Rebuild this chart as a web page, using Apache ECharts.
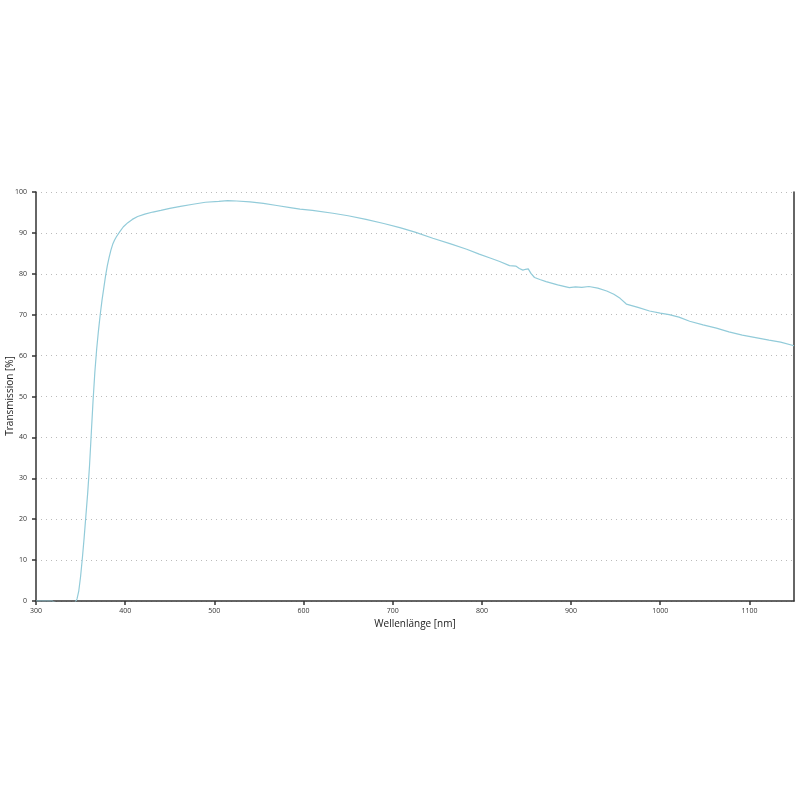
<!DOCTYPE html>
<html>
<head>
<meta charset="utf-8">
<script src="https://cdn.jsdelivr.net/npm/echarts@6/dist/echarts.min.js"></script>
<style>
  html, body { margin: 0; padding: 0; background: #fff; }
  #echartsMain { width: 800px; height: 800px; }
</style>
</head>
<body>
<div id="echartsMain"></div>
<script>
// Wellenlänge in nm
var wavelengths = [300, 318, 322, 330, 340, 344, 346, 348, 350, 352, 354, 356, 358, 360, 362, 364, 366, 368, 370, 372, 374, 376, 378, 380, 382, 384, 386, 388, 390, 394, 398, 403, 408, 414, 422, 431, 440, 450, 462, 476, 490, 505, 515, 525, 540, 555, 570, 585, 596, 610, 633, 650, 670, 690, 708, 725, 745, 765, 783, 797, 810, 820, 831, 838, 842, 846, 849, 852, 855, 859, 865, 872, 885, 898, 905, 912, 920, 930, 940, 948, 955, 962, 975, 988, 1000, 1010, 1021, 1033, 1048, 1063, 1077, 1092, 1107, 1122, 1135, 1150];
// Transmission in %
var transmission = [0, 0, -0.4, -0.4, -0.4, -0.3, 0.5, 2.5, 6, 10.5, 15.5, 21, 26.5, 33, 41, 49, 56, 61.5, 66, 70, 73.5, 76.5, 79.5, 82, 84, 85.8, 87.2, 88.2, 89, 90.3, 91.5, 92.5, 93.3, 94, 94.6, 95.1, 95.5, 96, 96.5, 97, 97.5, 97.7, 97.9, 97.8, 97.6, 97.2, 96.7, 96.2, 95.8, 95.5, 94.8, 94.2, 93.3, 92.3, 91.3, 90.2, 88.7, 87.3, 86, 84.8, 83.8, 83, 82, 81.9, 81.3, 80.9, 81.1, 81.2, 80.1, 79.1, 78.6, 78.1, 77.3, 76.6, 76.8, 76.7, 76.9, 76.5, 75.8, 75, 74, 72.6, 71.8, 70.9, 70.4, 70, 69.4, 68.4, 67.5, 66.7, 65.8, 65, 64.4, 63.8, 63.3, 62.4];

var xTicks = { min: 300, max: 1150, step: 100 };
var yTicks = { min: 0, max: 100, step: 10 };

var points = [];
for (var i = 0; i < wavelengths.length; i++) {
  points.push([wavelengths[i], transmission[i]]);
}

var myChart = echarts.init(document.getElementById('echartsMain'));

var axisFont = 'Open Sans, Liberation Sans, sans-serif';

var option = {
  animation: false,
  grid: { left: 36, right: 6, top: 192, bottom: 199, containLabel: false, outerBoundsMode: 'none' },
  // y-Achsentitel als Grafik, damit er nicht verschoben wird
  graphic: [{
    type: 'text',
    x: 10,
    y: 396,
    rotation: Math.PI / 2,
    style: {
      text: 'Transmission [%]',
      font: '10px ' + axisFont,
      fill: '#222',
      textAlign: 'center',
      textVerticalAlign: 'middle'
    }
  }],
  xAxis: {
    type: 'value',
    min: xTicks.min,
    max: xTicks.max,
    interval: xTicks.step,
    name: 'Wellenlänge [nm]',
    nameLocation: 'middle',
    nameGap: 16,
    nameTextStyle: { fontFamily: axisFont, fontSize: 10, color: '#222' },
    axisLine: { lineStyle: { color: '#333', width: 1.5 } },
    axisTick: { show: true, length: 4, lineStyle: { color: '#333', width: 1.5 } },
    axisLabel: {
      fontFamily: axisFont, fontSize: 7, color: '#333', margin: 6, showMaxLabel: false,
      formatter: function (v) { return String(v); }
    },
    splitLine: { show: false }
  },
  yAxis: [{
    type: 'value',
    min: yTicks.min,
    max: yTicks.max,
    interval: yTicks.step,
    axisLine: { show: true, lineStyle: { color: '#333', width: 1.5 } },
    axisTick: { show: true, length: 4, lineStyle: { color: '#333', width: 1.5 } },
    axisLabel: { fontFamily: axisFont, fontSize: 7, color: '#333', margin: 9 },
    splitLine: { show: true, lineStyle: { color: '#bbb', type: [1, 4], width: 1 } }
  }, {
    type: 'value',
    position: 'right',
    min: yTicks.min,
    max: yTicks.max,
    axisLine: { show: true, lineStyle: { color: '#333', width: 1.5 } },
    axisTick: { show: false },
    axisLabel: { show: false },
    splitLine: { show: false }
  }],
  series: [{
    type: 'line',
    data: points,
    showSymbol: false,
    lineStyle: { color: '#92cbd9', width: 1.2 },
    z: 3
  }]
};

myChart.setOption(option);
</script>
</body>
</html>
